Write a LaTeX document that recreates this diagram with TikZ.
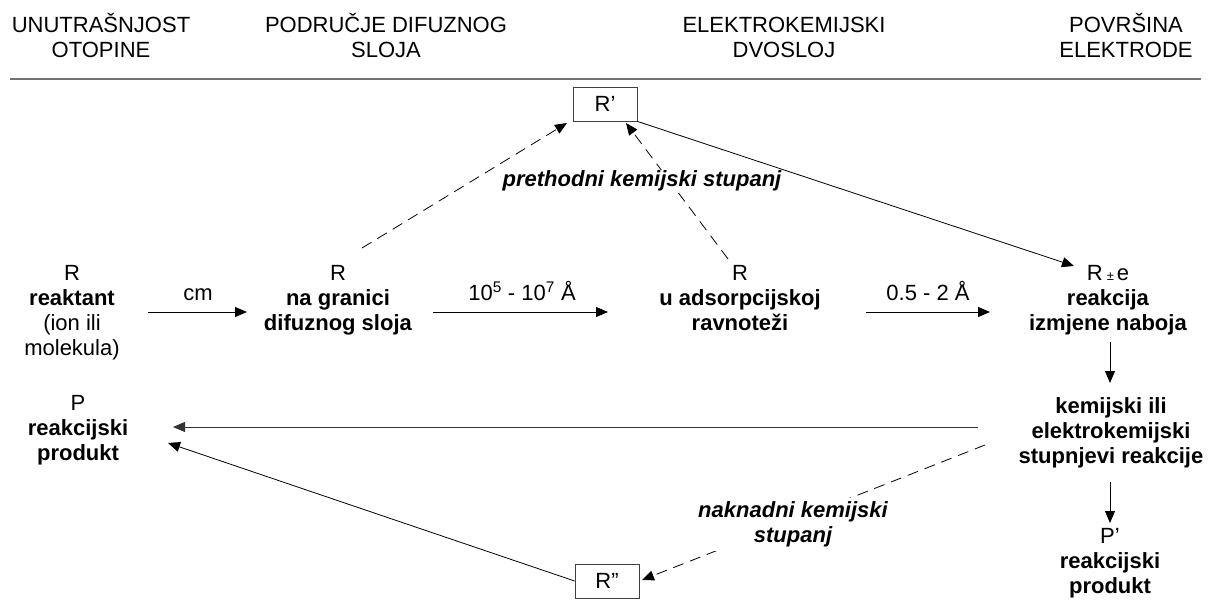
\documentclass[tikz,border=0pt]{standalone}
\usepackage{fontspec}
\setmainfont{Liberation Sans}
\usetikzlibrary{arrows.meta,calc}
\newcommand{\ml}[1]{\begin{tabular}[t]{@{}c@{}}#1\end{tabular}}
\begin{document}
\begin{tikzpicture}[x=1pt,y=-1pt,
  txt/.style={anchor=base,inner sep=0pt,font=\fontsize{22}{25}\selectfont},
  box/.style={draw=black!75,line width=0.8pt,minimum width=64pt,minimum height=34pt,inner sep=0pt,font=\fontsize{22}{25}\selectfont},
  conn/.style={line width=0.8pt,-{Triangle[length=12pt,width=10pt]}},
  dconn/.style={conn,dash pattern=on 11pt off 7pt},
  lbl/.style={anchor=base,inner sep=1.5pt,fill=white,font=\fontsize{22}{25}\selectfont\bfseries\itshape}]
\fill[white] (0,0) rectangle (1208,604);
\useasboundingbox (0,0) rectangle (1208,604);
% headers
\node[txt] (h1) at (101,33) {\ml{UNUTRAŠNJOST\\OTOPINE}};
\node[txt] (h2) at (386,33) {\ml{PODRUČJE DIFUZNOG\\SLOJA}};
\node[txt] (h3) at (784,33) {\ml{ELEKTROKEMIJSKI\\DVOSLOJ}};
\node[txt] (h4) at (1126,33) {\ml{POVRŠINA\\ELEKTRODE}};
\draw[black!55,line width=1.6pt] (10,79) -- (1201,79);
% main nodes
\node[txt] (n1) at (72,280) {\ml{R\\\textbf{reaktant}\\(ion ili\\molekula)}};
\node[txt] (n2) at (338,280) {\ml{R\\\textbf{na granici}\\\textbf{difuznog sloja}}};
\node[txt] (n3) at (740,280) {\ml{R\\\textbf{u adsorpcijskoj}\\\textbf{ravnoteži}}};
\node[txt] (n4) at (1108,280) {\ml{R\hspace{4pt}{\fontsize{13}{13}\selectfont ±}\hspace{3pt}e\\\textbf{reakcija}\\\textbf{izmjene naboja}}};
\node[txt] (n5) at (1111,413) {\ml{\textbf{kemijski ili}\\\textbf{elektrokemijski}\\\textbf{stupnjevi reakcije}}};
\node[txt] (n6) at (1110,543) {\ml{P’\\\textbf{reakcijski}\\\textbf{produkt}}};
\node[txt] (n7) at (78,410) {\ml{P\\\textbf{reakcijski}\\\textbf{produkt}}};
\node[box] (rp) at (605,104) {R’};
\node[box] (rpp) at (607,581) {R”};
% coordinates
\coordinate (a1s) at (148,312); \coordinate (a1e) at (247,312);
\coordinate (a2s) at (433,312); \coordinate (a2e) at (608,312);
\coordinate (a3s) at (866,312); \coordinate (a3e) at (990,312);
\coordinate (d1s) at (362,248); \coordinate (d1e) at (567,123);
\coordinate (d2s) at (728,259); \coordinate (d2e) at (626,123);
\coordinate (s1e) at (1074,266);
\coordinate (v1s) at (1110,342); \coordinate (v1e) at (1110,383);
\coordinate (v2s) at (1110,482); \coordinate (v2e) at (1110,523);
\coordinate (bks) at (978,427); \coordinate (bke) at (173,427);
\coordinate (b2e) at (168,443);
\coordinate (d3s) at (985,445); \coordinate (d3e) at (642,580);
% connectors
\draw[conn] (a1s) -- (a1e);
\draw[conn] (a2s) -- (a2e);
\draw[conn] (a3s) -- (a3e);
\node[txt] (l1) at (198,300) {cm};
\node[txt] (l2) at (522,300) {10\textsuperscript{5} - 10\textsuperscript{7} Å};
\node[txt] (l3) at (928,300) {0.5 - 2 Å};
\draw[dconn] (d1s) -- (d1e);
\draw[dconn] (d2s) -- (d2e);
\draw[conn] (rp.south east) -- (s1e);
\draw[conn] (v1s) -- (v1e);
\draw[conn] (v2s) -- (v2e);
\draw[conn,black!80] (bks) -- (bke);
\draw[conn] (rpp.west) -- (b2e);
\draw[dconn] (d3s) -- (d3e);
% labels
\node[lbl] (pk) at (642,187) {prethodni kemijski stupanj};
\node[lbl] (nk) at (793,517) {\ml{naknadni kemijski\\stupanj}};
\end{tikzpicture}
\end{document}
